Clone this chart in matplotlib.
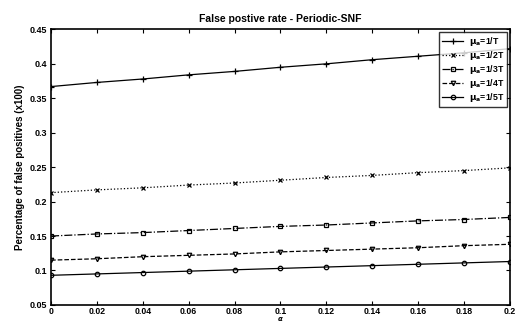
import matplotlib
matplotlib.use("Agg")
import matplotlib.pyplot as plt
import numpy as np

alpha = [0.0, 0.02, 0.04, 0.06, 0.08, 0.10, 0.12, 0.14, 0.16, 0.18, 0.20]
s_1T = [0.367, 0.373, 0.378, 0.384, 0.389, 0.395, 0.400, 0.406, 0.411, 0.416, 0.422]
s_2T = [0.213, 0.217, 0.220, 0.224, 0.227, 0.231, 0.235, 0.238, 0.242, 0.245, 0.249]
s_3T = [0.150, 0.153, 0.155, 0.158, 0.161, 0.164, 0.166, 0.169, 0.172, 0.174, 0.177]
s_4T = [0.115, 0.117, 0.120, 0.122, 0.124, 0.127, 0.129, 0.131, 0.133, 0.136, 0.138]
s_5T = [0.093, 0.095, 0.097, 0.099, 0.101, 0.103, 0.105, 0.107, 0.109, 0.111, 0.113]
labels = [r"$\mathbf{\mu_a}$=1/T", r"$\mathbf{\mu_a}$=1/2T", r"$\mathbf{\mu_a}$=1/3T",
          r"$\mathbf{\mu_a}$=1/4T", r"$\mathbf{\mu_a}$=1/5T"]
xticks = [0, 0.02, 0.04, 0.06, 0.08, 0.1, 0.12, 0.14, 0.16, 0.18, 0.2]
xticklabels = ["0", "0.02", "0.04", "0.06", "0.08", "0.1", "0.12", "0.14", "0.16", "0.18", "0.2"]
yticks = [0.05, 0.1, 0.15, 0.2, 0.25, 0.3, 0.35, 0.4, 0.45]
yticklabels = ["0.05", "0.1", "0.15", "0.2", "0.25", "0.3", "0.35", "0.4", "0.45"]

plt.rcParams['font.family'] = ['Liberation Sans', 'DejaVu Sans']
plt.rcParams['font.weight'] = 'bold'

fig = plt.figure(figsize=(5.16, 3.23), dpi=100)
ax = fig.add_axes([0.099, 0.056, 0.889, 0.853])

styles = [('-', '+', 4.5), (':', 'x', 3), ('-.', 's', 3.2), ('--', 'v', 3.2), ('-', 'o', 3.2)]
series = [s_1T, s_2T, s_3T, s_4T, s_5T]
for ys, lab, (ls, mk, ms) in zip(series, labels, styles):
    ax.plot(alpha, ys, linestyle=ls, marker=mk, markersize=ms, color='black',
            linewidth=0.9, markerfacecolor='none', markeredgewidth=0.9, label=lab)

ax.set_xlim(0, 0.2)
ax.set_ylim(0.05, 0.45)
ax.set_xticks(xticks)
ax.set_xticklabels(xticklabels, fontsize=6.3, fontweight='bold')
ax.set_yticks(yticks)
ax.set_yticklabels(yticklabels, fontsize=6.5, fontweight='bold')
ax.tick_params(direction='in', length=3, width=0.8, top=True, right=True, pad=3)
ax.tick_params(axis='x', pad=1.5)
for sp in ax.spines.values():
    sp.set_linewidth(1.2)

ax.set_title("False postive rate - Periodic-SNF", fontsize=7.5, fontweight='bold', pad=5)
ax.set_ylabel("Percentage of false positives (x100)", fontsize=7, fontweight='bold', labelpad=3)
fig.text(0.099 + 0.889 / 2, 0.0, r"$\alpha$", fontsize=5, ha='center', va='bottom')

leg = ax.legend(loc='upper right', fontsize=6.3, frameon=True, fancybox=False,
                edgecolor='black', handlelength=2.4, borderpad=0.35, labelspacing=0.1,
                handletextpad=0.6, borderaxespad=0.3)
leg.get_frame().set_linewidth(1.0)

fig.savefig("out.png", dpi=100)
